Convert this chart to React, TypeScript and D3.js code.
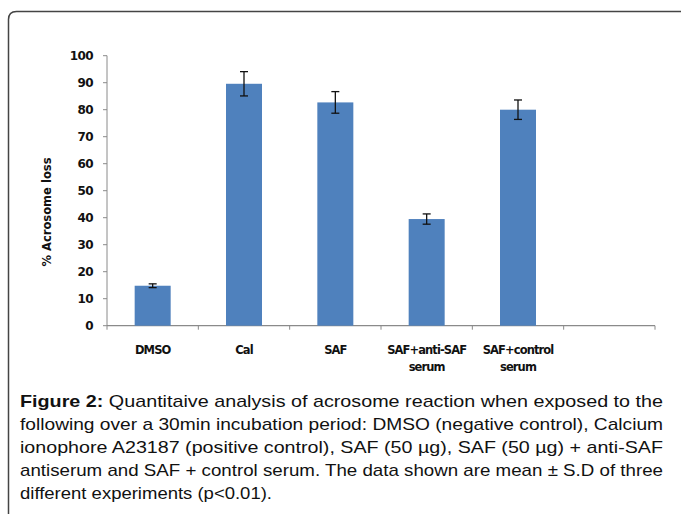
import React from "react";
import * as d3 from "d3";

const categories = ["DMSO", "Cal", "SAF", "SAF+anti-SAF|serum", "SAF+control|serum", ""];
const values = [14.8, 89.6, 82.7, 39.5, 80.0];
const errors = [0.7, 4.5, 4.0, 1.9, 3.6];
const yTicks = [0, 10, 20, 30, 40, 50, 60, 70, 80, 90, 100];
const captionLines = [
  "Quantitaive analysis of acrosome reaction when exposed to the",
  "following over a 30min incubation period: DMSO (negative control), Calcium",
  "ionophore A23187 (positive control), SAF (50 \u00b5g), SAF (50 \u00b5g) + anti-SAF",
  "antiserum and SAF + control serum. The data shown are mean \u00b1 S.D of three",
  "different experiments (p<0.01).",
];

export default function App() {
  const W = 681, H = 514;
  const x0 = 107, x1 = 655, yTop = 55.7, yBot = 325.7;
  const x = d3.scaleBand<string>().domain(categories.map((c, i) => i + "")).range([x0, x1]).paddingInner(0).paddingOuter(0);
  const y = d3.scaleLinear().domain([0, 100]).range([yBot, yTop]);
  const bw = 36;
  const tickFont = "'DejaVu Sans', sans-serif";
  const capFont = "'Liberation Sans', Arial, sans-serif";
  return (
    <svg width={W} height={H} style={{ position: "absolute", left: 0, top: 0 }}>
      <rect x={0} y={0} width={W} height={H} fill="#fff" />
      <path d={`M8.5,${H + 2} L8.5,19.5 Q8.5,11.5 16.5,11.5 L${W + 2},11.5`} fill="none" stroke="#444" strokeWidth={1.5} />
      {/* y axis */}
      <line x1={x0} x2={x0} y1={yTop} y2={yBot} stroke="#8a8a8a" strokeWidth={1} />
      {yTicks.map((t) => (
        <g key={t}>
          <line x1={x0 - 4} x2={x0} y1={y(t)} y2={y(t)} stroke="#8a8a8a" />
          <text x={93} y={y(t)} dy="0.36em" textAnchor="end" fontFamily={tickFont} fontWeight="bold" fontSize={12} letterSpacing={-0.6} fill="#111">
            {t}
          </text>
        </g>
      ))}
      <text transform={`translate(51,212) rotate(-90)`} textAnchor="middle" fontFamily={tickFont} fontWeight="bold" fontSize={13} textLength={109} lengthAdjust="spacingAndGlyphs" fill="#111">
        % Acrosome loss
      </text>
      {/* x axis */}
      <line x1={x0} x2={x1} y1={yBot} y2={yBot} stroke="#8a8a8a" strokeWidth={1.2} />
      {d3.range(categories.length + 1).map((i) => {
        const xx = x0 + i * x.bandwidth();
        return <line key={i} x1={xx} x2={xx} y1={yBot} y2={yBot + 4} stroke="#8a8a8a" />;
      })}
      {categories.map((c, i) => {
        const cx = (x(i + "") as number) + x.bandwidth() / 2;
        const parts = c.split("|");
        return (
          <text key={i} textAnchor="middle" fontFamily={tickFont} fontWeight="bold" fontSize={11.5} letterSpacing={-0.9} fill="#111">
            {parts.map((p, j) => (
              <tspan key={j} x={cx} y={354 + j * 17}>{p}</tspan>
            ))}
          </text>
        );
      })}
      {/* bars */}
      {values.map((v, i) => {
        const cx = (x(i + "") as number) + x.bandwidth() / 2;
        const e = errors[i];
        return (
          <g key={i}>
            <rect x={cx - bw / 2} y={y(v)} width={bw} height={yBot - y(v)} fill="#4f81bd" />
            <line x1={cx} x2={cx} y1={y(v + e)} y2={y(v - e)} stroke="#111" strokeWidth={1.3} />
            <line x1={cx - 4} x2={cx + 4} y1={y(v + e)} y2={y(v + e)} stroke="#111" strokeWidth={1.3} />
            <line x1={cx - 4} x2={cx + 4} y1={y(v - e)} y2={y(v - e)} stroke="#111" strokeWidth={1.3} />
          </g>
        );
      })}
      {/* caption */}
      {captionLines.map((l, i) => {
        const last = i === captionLines.length - 1;
        const yy = 407 + i * 23;
        const len = last ? 252 : 643;
        return (
          <text key={i} x={20} y={yy} fontFamily={capFont} fontSize={17} fill="#111" textLength={len} lengthAdjust="spacingAndGlyphs">
            {i === 0 ? <tspan fontWeight="bold">Figure 2: </tspan> : null}
            {l}
          </text>
        );
      })}
    </svg>
  );
}
